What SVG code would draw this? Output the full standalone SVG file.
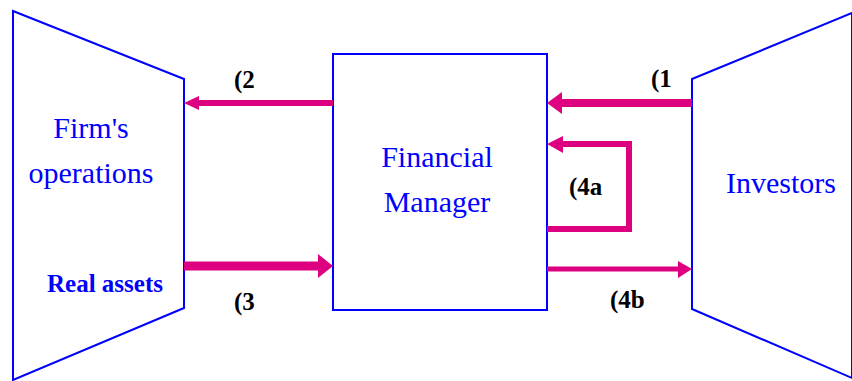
<svg xmlns="http://www.w3.org/2000/svg" width="852" height="381" viewBox="0 0 852 381">
<style>
.shape{fill:#fff;stroke:#0000ff;stroke-width:2}
.big{font-family:"Liberation Serif","Times New Roman",serif;font-size:30px;fill:#0000ff;text-anchor:middle}
.bold{font-family:"Liberation Serif","Times New Roman",serif;font-weight:bold;font-size:25px;fill:#0000ff;text-anchor:middle}
.lbl{font-family:"Liberation Serif","Times New Roman",serif;font-weight:bold;font-size:25px;fill:#000}
.ln{stroke:#dd0080;fill:none}
.hd{fill:#dd0080}
</style>
<rect width="852" height="381" fill="#fff"/>
<g id="firm">
<polygon class="shape" points="13,11 184,79 184,308 13,380"/>
<text class="big" x="91" y="138">Firm's</text>
<text class="big" x="91" y="183">operations</text>
<text class="bold" x="105" y="292">Real assets</text>
</g>
<g id="manager">
<rect class="shape" x="333" y="54" width="214" height="256"/>
<text class="big" x="437" y="167">Financial</text>
<text class="big" x="437" y="212">Manager</text>
</g>
<g id="investors">
<polygon class="shape" points="852,13 692,79 692,309 852,378"/>
<text class="big" x="781" y="193">Investors</text>
</g>
<g id="connectors">
<line class="ln" x1="333" y1="103" x2="197" y2="103" stroke-width="6"/>
<polygon class="hd" points="184,103 199,96 199,110"/>
<text class="lbl" x="234" y="88">(2</text>
<line class="ln" x1="184" y1="266" x2="320" y2="266" stroke-width="9"/>
<polygon class="hd" points="333,266 318,254 318,278"/>
<text class="lbl" x="234" y="310">(3</text>
<line class="ln" x1="692" y1="103" x2="559" y2="103" stroke-width="8"/>
<polygon class="hd" points="547,103 562,92 562,114"/>
<text class="lbl" x="651" y="87">(1</text>
<polyline class="ln" points="547,229 629,229 629,144 560,144" stroke-width="6" stroke-linejoin="miter"/>
<polygon class="hd" points="547,144 563,136 563,153"/>
<text class="lbl" x="569" y="195">(4a</text>
<line class="ln" x1="547" y1="269" x2="680" y2="269" stroke-width="5"/>
<polygon class="hd" points="692,269 678,261 678,278"/>
<text class="lbl" x="610" y="308">(4b</text>
</g>
</svg>
